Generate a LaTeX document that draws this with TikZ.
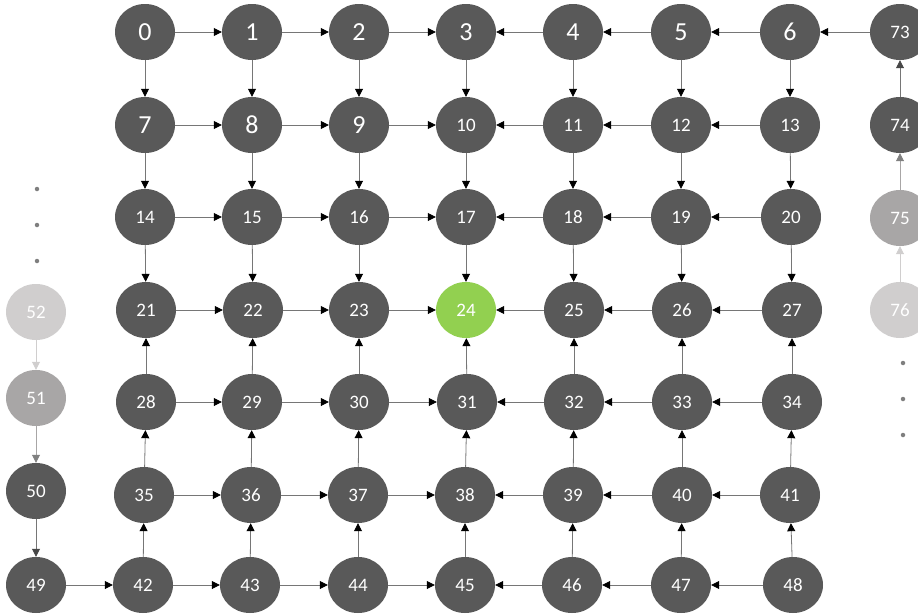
\documentclass[tikz,border=0pt]{standalone}
\usepackage{fontspec}
\setmainfont{Carlito}
\usetikzlibrary{shapes.geometric,arrows.meta}
\definecolor{nodedark}{HTML}{595959}
\definecolor{nodegreen}{HTML}{92D050}
\definecolor{nodemid}{HTML}{A8A6A6}
\definecolor{nodelight}{HTML}{D0CECE}
\definecolor{edgegray}{HTML}{767676}
\definecolor{dotgray}{HTML}{7F7F7F}
\tikzset{
  gnode/.style={ellipse,draw=none,fill=nodedark,minimum width=60pt,minimum height=56pt,inner sep=0pt,text=white},
  bigf/.style={font=\fontsize{26}{28}\selectfont},
  smallf/.style={font=\fontsize{19}{21}\selectfont},
  conn/.style={draw=edgegray,line width=0.8pt,-{Triangle[length=8pt,width=8pt,color=black]}},
  connlight/.style={draw=nodelight,line width=0.8pt,-{Triangle[length=8pt,width=8pt,color=nodelight]}},
  connmid/.style={draw=nodemid,line width=0.8pt,-{Triangle[length=8pt,width=8pt,color=gray]}},
  conndark/.style={draw=edgegray,line width=0.8pt,-{Triangle[length=8pt,width=8pt,color=nodedark!80!black]}},
  dotmark/.style={circle,fill=dotgray,minimum size=4.5pt,inner sep=0pt}
}
\begin{document}
\begin{tikzpicture}[x=1pt,y=-1pt]
\path[use as bounding box] (0,0) rectangle (918,613);
\clip (0,0) rectangle (918,613);
% single-digit nodes
\foreach \n/\x/\y in {0/145/32,1/252/32,2/359/32,3/466/32,4/573/32,5/681/32,6/790/32,
  7/145/125,8/252/125,9/359/125}
  \node[gnode,bigf] (n\n) at (\x,\y) {\n};
% two-digit nodes
\foreach \n/\x/\y in {10/466/125,11/573/125,12/681/125,13/790/125,
  14/145/217,15/252/217,16/359/217,17/466/217,18/573/217,19/681/217,20/791/217,
  21/146/310,22/253/310,23/359/310,25/574/310,26/682/310,27/792/310,
  28/146/402,29/252/402,30/359/402,31/467/402,32/574/402,33/682/402,34/792/402,
  35/144/495,36/251/495,37/358/495,38/465/495,39/573/495,40/682/495,41/790/495,
  42/143/585,43/250/585,44/358/585,45/465/585,46/572/585,47/681/585,48/793/585,
  50/36/491,49/36/585,73/900/32,74/900/125}
  \node[gnode,smallf] (n\n) at (\x,\y) {\n};
\node[gnode,smallf,fill=nodegreen] (n24) at (466,310) {24};
\node[gnode,smallf,fill=nodelight] (n52) at (36,312) {52};
\node[gnode,smallf,fill=nodemid] (n51) at (36,398) {51};
\node[gnode,smallf,fill=nodemid] (n75) at (900,218) {75};
\node[gnode,smallf,fill=nodelight] (n76) at (900,310) {76};
% dots
\foreach \i/\x/\y in {1/37/189,2/37/225,3/37/261,4/903/363,5/903/399,6/903/435}
  \node[dotmark] (d\i) at (\x,\y) {};
% horizontal edges
\foreach \a/\b in {0/1,1/2,2/3,4/3,5/4,6/5,73/6,
  7/8,8/9,9/10,11/10,12/11,13/12,
  14/15,15/16,16/17,18/17,19/18,20/19,
  21/22,22/23,23/24,25/24,26/25,27/26,
  28/29,29/30,30/31,32/31,33/32,34/33,
  35/36,36/37,37/38,39/38,40/39,41/40,
  49/42,42/43,43/44,44/45,46/45,47/46,48/47}
  \draw[conn] (n\a) -- (n\b);
% vertical edges
\foreach \a/\b in {0/7,1/8,2/9,3/10,4/11,5/12,6/13,
  7/14,8/15,9/16,10/17,11/18,12/19,13/20,
  14/21,15/22,16/23,17/24,18/25,19/26,20/27,
  28/21,29/22,30/23,31/24,32/25,33/26,34/27,
  35/28,36/29,37/30,38/31,39/32,40/33,41/34,
  42/35,43/36,44/37,45/38,46/39,47/40,48/41}
  \draw[conn] (n\a) -- (n\b);
% side chains
\draw[connlight] (n52) -- (n51);
\draw[connmid] (n51) -- (n50);
\draw[conndark] (n50) -- (n49);
\draw[connlight] (n76) -- (n75);
\draw[connmid] (n75) -- (n74);
\draw[conndark] (n74) -- (n73);
\end{tikzpicture}
\end{document}
